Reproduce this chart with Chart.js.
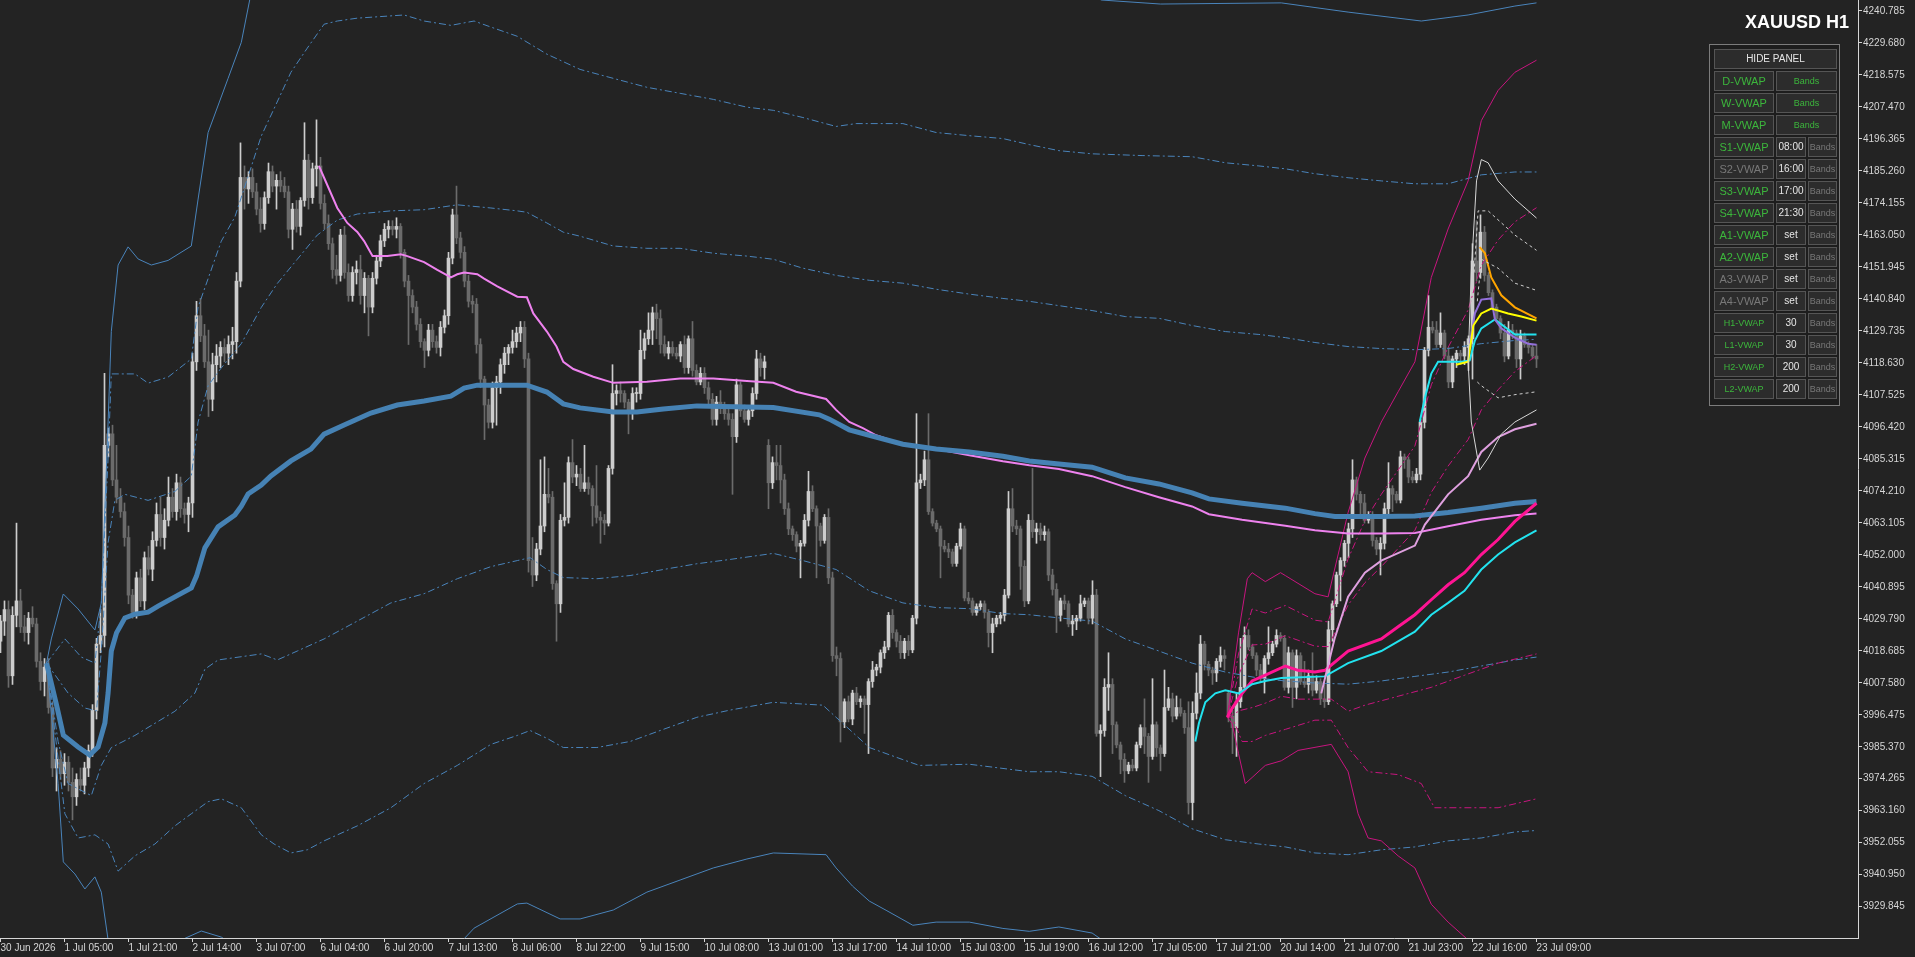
<!DOCTYPE html>
<html>
<head>
<meta charset="utf-8">
<script src="https://cdn.jsdelivr.net/npm/chart.js@4.4.1/dist/chart.umd.min.js"></script>
<style>
  html, body { margin: 0; padding: 0; background: #232323; overflow: hidden; }
  #wrap { position: relative; width: 1915px; height: 957px; }
  #chart { position: absolute; left: 0; top: 0; }
  #title { position: absolute; right: 66px; top: 12px; line-height: 18px; color: #fff; font: bold 18px "Liberation Sans", Arial, sans-serif; }
  #panel { position: absolute; left: 1709px; top: 44px; width: 129px; height: 360px; border: 1px solid #7c7c7c; background: #1d1d1d; }
  .btn { position: absolute; box-sizing: border-box; border: 1px solid #555; background: #2c2c2c; text-align: center; font-family: "Liberation Sans", Arial, sans-serif; white-space: nowrap; overflow: hidden; }
</style>
</head>
<body>
<div id="wrap">
  <canvas id="chart" width="1915" height="957"></canvas>
  <div id="title">XAUUSD H1</div>
  <div id="panel"></div>
</div>
<script>
// ---- candles [open, high, low, close], one array per trading week ----
const weekJun29 = [
  [4022,4031,4018,4029],[4029,4036,4024,4033],[4033,4036,4006,4010],[4010,4034,4007,4031],[4031,4063,4027,4036],
  [4036,4040,4025,4027],[4027,4031,4022,4025],[4025,4032,4021,4030],[4030,4034,4027,4028],[4028,4030,4013,4015],
  [4015,4018,4005,4008],[4008,4016,4003,4013],[4013,4016,3997,3999],[3999,4001,3975,3978],[3978,3985,3970,3981],
  [3981,3984,3974,3976],[3976,3983,3972,3980],[3980,3982,3970,3973],[3973,3978,3960,3968],[3968,3976,3965,3974],
  [3974,3978,3970,3972],[3972,3980,3969,3978],[3978,3986,3975,3984],[3984,4000,3982,3998],[3998,4023,3995,4021],
  [4021,4033,4018,4024],[4024,4115,4020,4090],[4090,4096,4086,4094],[4094,4097,4076,4078],[4078,4090,4070,4072],
  [4072,4075,4065,4067],[4067,4070,4055,4058],[4058,4062,4035,4038],[4038,4040,4030,4032],[4032,4046,4030,4044],
  [4044,4047,4034,4036],[4036,4053,4033,4051],[4051,4055,4045,4047],[4047,4060,4043,4057],[4057,4070,4055,4066],
  [4066,4072,4055,4058],[4058,4068,4054,4064],[4064,4079,4062,4072],[4072,4075,4065,4067],[4067,4080,4064,4077],
  [4077,4079,4065,4068],[4068,4070,4063,4066],[4066,4072,4060,4070],[4070,4122,4065,4119],[4119,4140,4116,4135],
  [4135,4141,4126,4128],[4128,4132,4117,4119],[4119,4130,4100,4106],[4106,4122,4102,4118],[4118,4125,4112,4121],
  [4121,4126,4117,4124],[4124,4127,4119,4122],[4122,4128,4118,4125],[4125,4131,4120,4126],[4126,4150,4122,4147],
  [4147,4195,4145,4183],[4183,4187,4172,4179],[4179,4185,4174,4183],[4183,4186,4176,4178],[4178,4181,4170,4172],
  [4172,4176,4164,4167],[4167,4178,4165,4176],[4176,4188,4174,4185],[4185,4187,4178,4180],[4180,4184,4172,4182],
  [4182,4185,4178,4180],[4180,4183,4176,4178],[4178,4180,4162,4165],[4165,4174,4158,4172],[4172,4175,4164,4166],
  [4166,4176,4163,4175],[4175,4202,4173,4189]
];
const weekJul06 = [
  [4189,4191,4172,4176],[4176,4188,4174,4186],[4186,4203,4180,4187],[4187,4190,4172,4174],[4174,4177,4165,4167],
  [4167,4170,4158,4160],[4160,4162,4148,4151],[4151,4156,4146,4149],[4149,4165,4147,4163],[4163,4166,4148,4150],
  [4150,4153,4140,4142],[4142,4152,4140,4150],[4150,4154,4146,4151],[4151,4156,4139,4142],[4142,4150,4136,4148],
  [4148,4149,4128,4138],[4138,4150,4136,4148],[4148,4156,4146,4154],[4154,4163,4152,4161],[4161,4167,4159,4165],
  [4165,4168,4162,4166],[4166,4168,4163,4165],[4165,4169,4162,4166],[4166,4167,4155,4157],[4157,4158,4145,4147],
  [4147,4149,4125,4142],[4142,4144,4136,4138],[4138,4140,4130,4132],[4132,4134,4124,4126],[4126,4127,4117,4123],
  [4123,4132,4121,4130],[4130,4132,4124,4126],[4126,4128,4122,4124],[4124,4133,4121,4131],[4131,4137,4129,4135],
  [4135,4157,4132,4155],[4155,4172,4153,4170],[4170,4180,4160,4162],[4162,4164,4155,4157],[4157,4159,4145,4147],
  [4147,4149,4138,4140],[4140,4142,4136,4139],[4139,4141,4122,4125],[4125,4127,4110,4113],[4113,4114,4092,4104],
  [4104,4106,4096,4098],[4098,4112,4096,4110],[4110,4114,4097,4112],[4112,4120,4108,4118],[4118,4124,4115,4122],
  [4122,4125,4118,4124],[4124,4130,4122,4126],[4126,4131,4124,4129],[4129,4133,4126,4131],[4131,4133,4117,4120],
  [4120,4122,4046,4050],[4050,4058,4041,4045],[4045,4056,4043,4054],[4054,4085,4052,4062],[4062,4086,4060,4073],
  [4073,4082,4070,4072],[4072,4074,4040,4042],[4042,4043,4022,4035],[4035,4066,4032,4064],[4064,4077,4062,4065],
  [4065,4086,4063,4084],[4084,4092,4077,4079],[4079,4083,4076,4080],[4080,4082,4074,4075],[4075,4090,4074,4077],
  [4077,4079,4073,4075],[4075,4076,4062,4069],[4069,4083,4063,4065],[4065,4067,4056,4064],[4064,4066,4059,4063],
  [4063,4083,4062,4082],[4082,4118,4080,4108],[4108,4111,4104,4109],[4109,4112,4105,4108],[4108,4109,4103,4105],
  [4105,4106,4094,4102],[4102,4110,4099,4108],[4108,4110,4105,4108],[4108,4130,4106,4123],[4123,4129,4120,4127],
  [4127,4136,4125,4130],[4130,4138,4125,4136],[4136,4139,4127,4134],[4134,4137,4122,4125],[4125,4128,4121,4122],
  [4122,4126,4120,4124],[4124,4126,4121,4122],[4122,4124,4120,4121],[4121,4126,4119,4125],[4125,4128,4115,4117],
  [4117,4128,4115,4127],[4127,4133,4114,4116],[4116,4118,4111,4112],[4112,4117,4111,4115],[4115,4117,4108,4110],
  [4110,4112,4104,4106],[4106,4108,4097,4099],[4099,4107,4097,4105],[4105,4109,4101,4103],[4103,4105,4099,4101],
  [4101,4103,4097,4099],[4099,4101,4073,4093],[4093,4113,4091,4111],[4111,4112,4100,4102],[4102,4104,4098,4099],
  [4099,4103,4097,4102],[4102,4110,4100,4108],[4108,4123,4106,4120],[4120,4122,4114,4117],[4117,4121,4113,4119]
];
const weekJul13 = [
  [4090,4092,4068,4077],[4077,4086,4075,4084],[4084,4090,4078,4083],[4083,4090,4070,4078],[4078,4080,4066,4068],
  [4068,4070,4059,4061],[4061,4062,4057,4059],[4059,4060,4053,4055],[4055,4057,4044,4056],[4056,4066,4055,4064],
  [4064,4081,4062,4074],[4074,4076,4067,4068],[4068,4069,4044,4062],[4062,4063,4055,4057],[4057,4066,4056,4065],
  [4065,4068,4042,4044],[4044,4046,4015,4017],[4017,4020,4010,4016],[4016,4018,3987,3994],[3994,4002,3992,4001],
  [4001,4003,3994,3995],[3995,4005,3993,4004],[4004,4006,4000,4001],[4001,4003,3999,4002],[4002,4003,3990,4000],
  [4000,4009,3983,4008],[4008,4015,4006,4012],[4012,4014,4010,4013],[4013,4019,4011,4018],[4018,4022,4016,4020],
  [4020,4032,4019,4031],[4031,4033,4023,4025],[4025,4026,4020,4022],[4022,4024,4016,4018],[4018,4023,4016,4022],
  [4022,4024,4017,4019],[4019,4031,4018,4030],[4030,4101,4028,4077],[4077,4080,4075,4078],[4078,4088,4076,4085],
  [4085,4101,4066,4067],[4067,4068,4062,4063],[4063,4064,4060,4061],[4061,4062,4044,4055],[4055,4057,4053,4054],
  [4054,4056,4051,4053],[4053,4054,4048,4049],[4049,4056,4048,4055],[4055,4063,4054,4061],[4061,4062,4036,4037],
  [4037,4039,4035,4036],[4036,4037,4031,4032],[4032,4035,4031,4034],[4034,4036,4033,4035],[4035,4036,4030,4032],
  [4032,4033,4020,4025],[4025,4030,4018,4028],[4028,4031,4027,4030],[4030,4032,4028,4031],[4031,4040,4029,4038],
  [4038,4074,4037,4068],[4068,4075,4060,4062],[4062,4064,4059,4061],[4061,4062,4040,4048],[4048,4050,4034,4036],
  [4036,4066,4035,4064],[4064,4082,4058,4060],[4060,4063,4056,4061],[4061,4063,4057,4059],[4059,4062,4057,4060],
  [4060,4061,4043,4045],[4045,4047,4038,4040],[4040,4042,4025,4031],[4031,4037,4029,4036],[4036,4038,4033,4035],
  [4035,4036,4027,4028],[4028,4031,4024,4029],[4029,4031,4026,4030],[4030,4038,4029,4035],[4035,4037,4034,4036],
  [4036,4037,4028,4030],[4030,4043,4028,4038],[4038,4040,3989,3990],[3990,3993,3975,3991],[3991,4009,3989,4006],
  [4006,4018,3998,4007],[4007,4009,3983,3993],[3993,3994,3985,3986],[3986,3987,3976,3981],[3981,3983,3973,3977],
  [3977,3980,3976,3979],[3979,3981,3977,3978],[3978,3987,3977,3986],[3986,3993,3985,3992],[3992,4002,3983,3989],
  [3989,3990,3973,3982],[3982,4009,3981,3993],[3993,3994,3982,3985],[3985,3986,3977,3983],[3983,4012,3982,3999],
  [3999,4006,3998,4002],[4002,4004,3994,3996],[3996,4003,3995,3999],[3999,4002,3996,3997],[3997,3998,3990,3992],
  [3992,4001,3962,3966],[3966,4001,3960,3997],[3997,4011,3995,4004],[4004,4024,4002,4021],[4021,4022,4012,4014],
  [4014,4015,4010,4012],[4012,4013,4007,4011],[4011,4016,4008,4015],[4015,4020,4013,4017],[4017,4019,4012,4016]
];
const weekJul20 = [
  [4004,4005,3994,3996],[3996,3998,3983,3992],[3992,4004,3982,4001],[4001,4023,3999,4006],[4006,4027,4005,4024],
  [4024,4026,4019,4020],[4020,4021,4016,4017],[4017,4018,4010,4012],[4012,4014,4008,4009],[4009,4017,4004,4016],
  [4016,4027,4014,4018],[4018,4022,4017,4021],[4021,4026,4020,4024],[4024,4025,4022,4023],[4023,4024,4005,4006],
  [4006,4020,4004,4018],[4018,4019,3999,4006],[4006,4019,4002,4017],[4017,4018,4007,4008],[4008,4015,4006,4007],
  [4007,4012,4004,4010],[4010,4018,4003,4005],[4005,4010,4004,4008],[4008,4009,4000,4002],[4002,4007,3999,4001],
  [4001,4029,4000,4026],[4026,4036,4022,4035],[4035,4046,4034,4045],[4045,4051,4036,4050],[4050,4057,4048,4056],
  [4056,4063,4051,4061],[4061,4085,4058,4078],[4078,4079,4071,4073],[4073,4074,4065,4070],[4070,4073,4063,4064],
  [4064,4067,4063,4065],[4065,4067,4055,4057],[4057,4058,4052,4054],[4054,4058,4045,4056],[4056,4070,4054,4068],
  [4068,4084,4066,4075],[4075,4076,4067,4073],[4073,4074,4070,4071],[4071,4088,4070,4086],[4086,4087,4082,4085],
  [4085,4086,4077,4079],[4079,4081,4077,4078],[4078,4082,4077,4080],[4080,4099,4078,4098],[4098,4124,4096,4123],
  [4123,4142,4121,4131],[4131,4133,4129,4130],[4130,4133,4124,4125],[4125,4136,4124,4129],[4129,4130,4120,4121],
  [4121,4124,4110,4112],[4112,4121,4110,4120],[4120,4123,4117,4122],[4122,4123,4118,4121],[4121,4126,4118,4124],
  [4124,4128,4116,4127],[4127,4160,4113,4154],[4154,4168,4147,4150],[4150,4170,4148,4164],[4164,4166,4147,4149],
  [4149,4150,4142,4143],[4143,4144,4137,4138],[4138,4139,4133,4134],[4134,4135,4127,4129],[4129,4132,4119,4121],
  [4121,4133,4120,4130],[4130,4132,4127,4129],[4129,4130,4117,4120],[4120,4130,4113,4128],[4128,4129,4124,4125],
  [4125,4126,4122,4124],[4124,4125,4120,4121],[4121,4125,4117,4120]
];

// ---- axis labels ----
const tickIdx = [0,16,32,48,64,80,96,112,128,144,160,176,192,208,224,240,256,272,288,304,320,336,352,368,384];
const tickLabels = ['30 Jun 2026','1 Jul 05:00','1 Jul 21:00','2 Jul 14:00','3 Jul 07:00','6 Jul 04:00','6 Jul 20:00',
  '7 Jul 13:00','8 Jul 06:00','8 Jul 22:00','9 Jul 15:00','10 Jul 08:00','13 Jul 01:00','13 Jul 17:00','14 Jul 10:00',
  '15 Jul 03:00','15 Jul 19:00','16 Jul 12:00','17 Jul 05:00','17 Jul 21:00','20 Jul 14:00','21 Jul 07:00',
  '21 Jul 23:00','22 Jul 16:00','23 Jul 09:00'];
const priceTicks = [3929.845,3940.950,3952.055,3963.160,3974.265,3985.370,3996.475,4007.580,4018.685,4029.790,
  4040.895,4052.000,4063.105,4074.210,4085.315,4096.420,4107.525,4118.630,4129.735,4140.840,4151.945,4163.050,
  4174.155,4185.260,4196.365,4207.470,4218.575,4229.680,4240.785];

// ---- indicator lines, [bar index, price] ----
const mVwap = [[11.5,4014.4],[14,3999.9],[15.7,3989.4],[19.4,3985.3],[22.3,3982.5],[24.4,3985.3],[26.1,3993.6],[26.9,4004],
  [27.7,4018.6],[29,4024.9],[31.1,4030.1],[33.6,4031.4],[36.9,4032.1],[39.4,4034.2],[43.6,4037.4],[47.7,4040.5],[49,4044.6],
  [51.1,4054.4],[54.4,4061.7],[58.6,4065.8],[60.2,4068.9],[61.9,4073.1],[65.2,4076.2],[67.6,4079.4],[72.6,4084.6],
  [77.6,4088.7],[80.9,4093.9],[85.9,4097.1],[92.6,4101.2],[99.2,4104],[105.9,4105.4],[112.6,4107.1],[115.9,4109.9],
  [119.2,4110.9],[131.6,4110.9],[136.6,4108.5],[140.7,4104.4],[144.9,4103],[153.2,4101.6],[159.1,4101.6],[165.7,4102.6],
  [174.1,4103.7],[186.6,4103.3],[193.2,4103.1],[204.7,4100.6],[207.2,4099.1],[212.2,4095.4],[217.2,4093.5],[225.6,4090.4],
  [233.9,4088.7],[242.2,4087.7],[250.6,4086.2],[257.2,4084.6],[264.6,4083.5],[272.9,4082.4],[281.2,4078.7],[289.6,4076.6],
  [297.9,4073.5],[302.1,4071.4],[310.4,4069.9],[321.2,4068.2],[328.6,4066.3],[333.6,4065.3],[345.2,4065.3],[353.6,4065.5],
  [361.9,4066.7],[370.2,4068.2],[378.6,4069.9],[384,4070.5]];
const mUp1 = [[11.5,4014.4],[16.9,4004],[21.1,3998.8],[24,3997.8],[25.2,4018.6],[26.9,4056.3],[28.6,4070.9],[31.1,4073],
  [36.9,4070.9],[43.6,4074],[47.7,4079.3],[49.4,4098.1],[51.9,4110.7],[55.2,4116.9],[60.2,4125.3],[65.2,4137.9],[69.2,4146.2],
  [74.2,4154.6],[79.2,4163],[84.2,4168.2],[89.2,4170.3],[97.6,4171.4],[105.9,4171.8],[114.2,4173.5],[122.6,4172.4],
  [129.2,4171.4],[131.6,4170.9],[136.6,4167.2],[140.7,4164],[144.9,4162.6],[153.2,4159.2],[161.6,4158.4],[169.9,4158.4],
  [178.2,4156.7],[186.6,4155.7],[193.2,4154.6],[200.6,4151.5],[208.9,4149],[217.2,4147.3],[225.6,4146.3],[233.9,4144.2],
  [242.2,4142.5],[250.6,4141],[257.2,4140],[264.6,4138.5],[272.9,4136.8],[281.2,4134.7],[289.6,4134.1],[297.9,4131.6],
  [306.2,4129.5],[314.6,4128.5],[321.2,4127.4],[328.6,4125.7],[336.9,4124.3],[345.2,4123.6],[353.6,4123.2],[361.9,4123.6],
  [370.2,4125.3],[378.6,4126.4],[384,4126.8]];
const mUp2 = [[11.5,4014.4],[16.1,4022.8],[20.2,4016.5],[23.6,4014.4],[25.2,4035.3],[26.9,4085.6],[27.7,4114.8],[33.6,4114.8],
  [36.9,4111.6],[41.9,4113.7],[47.7,4120],[49.4,4138],[55.2,4160.9],[58.6,4169.3],[65.2,4197.4],[68.4,4206.9],[72.6,4219.5],
  [76.7,4227.9],[80.9,4236.2],[84.2,4237.3],[89.2,4238.3],[100.9,4239.4],[105.9,4237.3],[112.6,4235.8],[118.4,4237.3],
  [122.6,4235.2],[129.2,4232],[136.6,4225.8],[144.9,4220.5],[153.2,4217.4],[161.6,4214.3],[169.9,4212.2],[178.2,4210.1],
  [186.6,4207.4],[193.2,4206.3],[200.6,4203.8],[208.9,4200.7],[213.9,4201.7],[225.6,4201.7],[233.9,4198.6],[242.2,4197.5],
  [250.6,4196.5],[257.2,4194.4],[264.6,4192.3],[272.9,4191.2],[285.4,4190.6],[297.9,4190.2],[306.2,4188.1],[314.6,4187],
  [321.2,4186],[328.6,4184.3],[336.9,4182.9],[345.2,4181.8],[353.6,4180.8],[361.9,4180.8],[370.2,4183.9],[378.6,4184.9],
  [384,4184.9]];
const mUp3 = [[11.5,4014.4],[12.7,4022.8],[15.7,4038.4],[19.4,4033.2],[23.6,4025.9],[25.2,4035.3],[26.9,4098.1],[27.7,4129.5],
  [29.4,4152.6],[31.9,4158.9],[34.4,4154.7],[37.7,4152.6],[41.9,4154.2],[47.7,4159.2],[49.4,4175.5],[51.9,4198.6],
  [56.9,4217.4],[60.2,4229.9],[62.3,4244.6],[70,4262],[90,4280],[120,4290],[160,4290],[200,4285],[240,4270],[265,4252],
  [275.2,4244.6],[290,4243.2],[320.2,4243.6],[336.9,4240.4],[355.2,4237.3],[366.9,4239.4],[378.6,4242.5],[384,4243.6]];
const mDn1 = [[11.5,4014.4],[14.4,3987.2],[16.9,3972.6],[22.7,3968.4],[25.2,3978.9],[27.7,3985.1],[33.6,3989.3],[43.6,3997.7],
  [48.6,4004],[51.1,4012.3],[54.4,4015.5],[65.2,4017.6],[69.2,4015.5],[74.2,4018.6],[80.9,4022.8],[89.2,4029],[97.6,4035.3],
  [105.9,4038.5],[114.2,4043.7],[122.6,4047.9],[129.2,4050],[132.4,4051],[136.6,4046.9],[140.7,4044.1],[149.1,4043.7],
  [157.4,4044.8],[165.7,4046.9],[174.1,4048.9],[182.4,4050.4],[193.2,4052.5],[200.6,4050],[208.9,4046.9],[217.2,4039.5],
  [225.6,4035.3],[233.9,4033.7],[242.2,4033.3],[250.6,4031.6],[257.2,4031.2],[264.6,4030.1],[272.9,4029],[281.2,4022.8],
  [289.6,4018.6],[297.9,4014.4],[306.2,4011.3],[314.6,4009.2],[321.2,4008.2],[328.6,4007.5],[336.9,4007.1],[345.2,4008.2],
  [353.6,4009.8],[361.9,4011.3],[370.2,4013.4],[378.6,4015.5],[384,4016.5]];
const mDn2 = [[11.5,4014.4],[16.1,3962.1],[19.4,3953.7],[23.6,3954.8],[26.9,3951.6],[29.4,3942.2],[33.6,3947.5],[38.6,3951.6],
  [43.6,3957.9],[47.7,3962.1],[51.9,3966.3],[55.2,3967.3],[60.2,3964.2],[65.2,3954.8],[68.4,3951.6],[72.6,3948.5],
  [76.7,3949.6],[80.9,3952.7],[89.2,3957.9],[97.6,3964.2],[105.9,3972.6],[114.2,3978.9],[122.6,3986.2],[129.2,3989.3],
  [132.4,3991],[136.6,3988.3],[140.7,3985.1],[149.1,3985.1],[157.4,3987.2],[165.7,3991.4],[174.1,3995.6],[182.4,3998.1],
  [193.2,4000.8],[205.6,3999.8],[208.9,3995.6],[217.2,3985.1],[225.6,3980.9],[229.7,3978.9],[242.2,3979.3],[257.2,3976.7],
  [264.6,3976.7],[272.9,3975.1],[281.2,3968.4],[289.6,3963.2],[297.9,3956.9],[306.2,3953.1],[314.6,3951.6],[321.2,3950.6],
  [328.6,3948.5],[336.9,3947.9],[345.2,3949.6],[353.6,3950.6],[361.9,3952.7],[370.2,3953.7],[378.6,3955.8],[384,3956.3]];
const mDn3 = [[11.5,4014.4],[14.4,3972.6],[15.7,3945.4],[18.6,3941.2],[21.1,3936],[23.6,3940.2],[25.2,3934.9],[26.9,3918.3],
  [35,3905],[42,3912],[45.2,3918.3],[50.2,3921.4],[55.2,3919.3],[65,3910],[90,3900],[110,3910],[118.4,3922.4],[129.2,3930.8],
  [131.6,3931.1],[139.9,3925.6],[144.9,3925.6],[153.2,3928.7],[161.6,3934.9],[169.9,3939.1],[178.2,3943.3],[186.6,3946.4],
  [193.2,3948.5],[206.4,3947.9],[208.9,3943.3],[213,3937],[217.2,3931.8],[221.4,3928.6],[228.1,3923.4],[233.9,3924.5],
  [242.2,3924.5],[250.6,3922.3],[257.2,3921.3],[264.6,3922.8],[272.9,3920.7],[275.4,3918.3],[290,3905],[330,3895],[384,3890]];
const aVwap = [[79.6,4187],[80.9,4182.9],[84.2,4172.4],[86.7,4167.2],[89.2,4164.1],[90.9,4160.9],[93,4155.7],[96.7,4155.7],
  [100.1,4156.3],[101.7,4155.7],[105.9,4153.6],[109.2,4150.9],[112.6,4148.3],[114.2,4149.4],[115.9,4150],[119.2,4149.4],
  [120.9,4147.9],[124.2,4145.2],[129.2,4141.6],[131.6,4141.4],[133.2,4135.8],[136.6,4129.5],[139,4124.3],[140.7,4119],
  [143.2,4116.5],[148.2,4113.8],[153.2,4111.7],[161.6,4112.1],[169.9,4113.2],[178.2,4113.2],[186.6,4112.3],[193.2,4111.7],
  [198.9,4108.6],[206.4,4106.1],[208.9,4102.3],[212.2,4098.1],[215.6,4096],[218.9,4093.5],[225.6,4090.4],[233.9,4088.7],
  [242.2,4086.6],[250.6,4084.5],[257.2,4083.1],[264.6,4081.8],[272.9,4079.3],[281.2,4075.5],[289.6,4072],[297.9,4068.8],
  [302.1,4066.1],[310.4,4064.2],[321.2,4062.1],[328.6,4060.5],[336.9,4059.4],[345.2,4059.4],[353.6,4059.6],[361.9,4061.9],
  [370.2,4064.2],[378.6,4065.7],[384,4066.3]];
const wVwap = [[306.7,3995.6],[307.9,3998.7],[310.4,4003.9],[312.9,4008.2],[316.2,4010.2],[321.2,4013.4],[324.4,4011.9],
  [328.6,4011.3],[331.1,4011.9],[336.9,4018.6],[345.2,4022.8],[349.4,4027],[353.6,4031.2],[357.7,4036.4],[361.9,4041.6],
  [366,4045.8],[370.2,4052.1],[374.4,4057.3],[378.6,4063.6],[384,4069.9]];
const wUp1 = [[306.7,3995.6],[309.5,4010.2],[312.9,4020.7],[316.2,4021],[321.2,4023.9],[328.6,4020.3],[331.9,4020.1],
  [336.9,4034.6],[341.1,4042.3],[345.2,4047.9],[349.4,4054.2],[353.6,4060.5],[357.7,4073.7],[361.9,4082.8],[366.9,4092],
  [370.2,4102.3],[374.4,4109.3],[378.6,4115.6],[384,4121.2]];
const wUp2 = [[306.7,3995.6],[309.5,4017.6],[312.9,4033.2],[316.2,4031.8],[321.2,4034.4],[328.6,4029.3],[331.9,4028.7],
  [336.9,4050.6],[341.1,4063.9],[345.2,4073],[349.4,4081.4],[353.6,4089.8],[357.7,4111],[361.9,4124],[366.9,4137],
  [370.2,4152.5],[374.4,4161.3],[378.6,4167.6],[384,4172.5]];
const wUp3 = [[306.7,3995.6],[309.5,4024.9],[311.7,4043.7],[312.9,4045.8],[316.2,4042.7],[320,4045.8],[321.2,4044.8],
  [328.6,4038.5],[331.9,4037.4],[336.9,4066.7],[341.1,4085.6],[345.2,4098.1],[349.4,4108.6],[353.6,4119],[357.7,4148.3],
  [361.9,4165.1],[366.9,4181.8],[370.2,4202.7],[374.4,4213.2],[378.6,4219.5],[384,4223.7]];
const wDn1 = [[306.7,3995.6],[310,3998],[313,3999],[316.2,4000.5],[320.2,4002.9],[324.4,4001.9],[332.7,4001.9],[336.9,3997.7],
  [341.1,3999.8],[349.4,4002.9],[357.7,4006],[366,4010.2],[374.4,4014.4],[384,4017.6]];
const wDn2 = [[306.7,3995.6],[307.9,3995.7],[310.4,3987.2],[312.9,3987.2],[316.2,3989.3],[321.2,3991.4],[328.6,3994.6],
  [332.7,3994.6],[336.9,3985.1],[341.9,3976.7],[349.4,3975.7],[355.2,3972.6],[358.5,3964.2],[366,3964.2],[374.4,3964.2],
  [384,3967.3]];
const wDn3 = [[306.7,3995.6],[307.9,3993.5],[309.5,3983],[311.2,3972.6],[312.9,3974.7],[316.2,3978.9],[320.2,3980.5],
  [324.4,3984.1],[332.7,3986.2],[336.9,3976.7],[339.4,3962.1],[341.9,3953.7],[345.2,3952.7],[349.4,3947.5],[353.6,3943.3],
  [357.7,3930.7],[361.9,3924.5],[366.9,3918.3],[372,3905],[384,3895]];
const cyanLow = [[298.7,3987.2],[299.6,3993.5],[301.2,4000.8],[303.7,4003.9],[306.2,4005],[309.6,4003.9],[312.9,4007.1],
  [316.2,4008.2],[320.2,4009.2],[331.1,4009.8],[336.9,4014.4],[345.2,4018.6],[353.6,4025.3],[357.7,4031.2],[361.9,4035.3],
  [366,4039.5],[370.2,4046.9],[374.4,4052.1],[378.6,4056.3],[384,4060.5]];
const cyanHigh = [[354.8,4098.1],[356.1,4106.5],[357.7,4114.9],[359.4,4119],[361.9,4119],[365.2,4119],[367.3,4119.5],
  [368.6,4126.4],[370.2,4130.6],[373.6,4133.7],[378.6,4128.5],[384,4128.5]];
const plumLine = [[330.2,4003.9],[333.5,4022.8],[336.9,4037.5],[341.1,4045.8],[345.2,4050],[353.6,4055.2],[356.1,4062.5],
  [361.9,4073],[366.9,4079.3],[370.2,4087.7],[374.4,4092.9],[378.6,4095.6],[384,4097.5]];
const yellowLine = [[363.9,4118],[366.9,4119],[368.2,4131.6],[370.2,4135.8],[372.7,4137.5],[376.9,4135.8],[380.2,4134.7],[384,4133.3]];
const orangeLine = [[369.8,4158.8],[371.1,4156.7],[372.7,4148.3],[375.2,4142.1],[378.6,4137.9],[384,4134.1]];
const purpleLine = [[367.3,4125.3],[368.6,4135.8],[370.2,4140.6],[372.7,4141],[373.6,4133.7],[375.2,4130.6],[378.6,4127.4],
  [381.9,4125.3],[384,4124.9]];
const whiteUp = [[366.9,4119],[367.7,4150.4],[369,4181.8],[370.2,4189.2],[371.9,4188.1],[374.4,4181.8],[378.6,4175.5],[384,4168.9]];
const whiteDn = [[366.9,4119],[367.7,4098.1],[369.8,4081.4],[371.9,4085.6],[375.2,4093.9],[378.6,4098.1],[384,4102.3]];
const whiteDash1 = [[368.4,4150],[369.4,4171.4],[371.9,4171.4],[378.6,4163],[384,4157.7]];
const whiteDash2 = [[369.2,4140],[370.2,4154.6],[374.4,4151.5],[378.6,4146.3],[384,4143.8]];
const whiteDash3 = [[369.2,4112],[370.2,4110.7],[374.4,4106.5],[378.6,4107.6],[384,4108.6]];

// ---- panel buttons: [label, colour class] ----
const panelRows = [
  [['D-VWAP','on'],['Bands','on']],
  [['W-VWAP','on'],['Bands','on']],
  [['M-VWAP','on'],['Bands','on']],
  [['S1-VWAP','on'],['08:00','txt'],['Bands','off']],
  [['S2-VWAP','off'],['16:00','txt'],['Bands','off']],
  [['S3-VWAP','on'],['17:00','txt'],['Bands','off']],
  [['S4-VWAP','on'],['21:30','txt'],['Bands','off']],
  [['A1-VWAP','on'],['set','txt'],['Bands','off']],
  [['A2-VWAP','on'],['set','txt'],['Bands','off']],
  [['A3-VWAP','off'],['set','txt'],['Bands','off']],
  [['A4-VWAP','off'],['set','txt'],['Bands','off']],
  [['H1-VWAP','on'],['30','txt'],['Bands','off']],
  [['L1-VWAP','on'],['30','txt'],['Bands','off']],
  [['H2-VWAP','on'],['200','txt'],['Bands','off']],
  [['L2-VWAP','on'],['200','txt'],['Bands','off']]
];

const BULL = '#cdcdcd';
const BEAR = '#6b6b6b';
const AXIS = '#d6d6d6';
const MBLUE = '#4a84bb';
const WPINK = '#c8157f';
const DASHDOT = [7, 3, 2, 3];
const AXIS_FONT = { family: 'Liberation Sans', size: 10 };

function buildPanel() {
  const textColor = { on: '#3cb63c', off: '#787878', txt: '#e6e6e6' };
  function addBtn(x, y, w, h, text, cls, size) {
    const b = document.createElement('div');
    b.className = 'btn';
    b.style.left = x + 'px'; b.style.top = y + 'px';
    b.style.width = w + 'px'; b.style.height = h + 'px';
    b.style.lineHeight = (h - 2) + 'px';
    b.style.fontSize = size + 'px';
    b.style.color = textColor[cls];
    b.textContent = text;
    document.getElementById('wrap').appendChild(b);
  }
  addBtn(1714, 49, 123, 20, 'HIDE PANEL', 'txt', 10);
  panelRows.forEach((row, r) => {
    const y = 71 + r * 22;
    const small = row[0][0].startsWith('H') || row[0][0].startsWith('L');
    addBtn(1714, y, 60, 20, row[0][0], row[0][1], small ? 9 : 11);
    if (row.length === 2) {
      addBtn(1776, y, 61, 20, row[1][0], row[1][1], 9);
    } else {
      addBtn(1776, y, 30, 20, row[1][0], row[1][1], 10);
      addBtn(1808, y, 29, 20, row[2][0], row[2][1], 9);
    }
  });
}

function lineSet(points, color, width, dash, order) {
  return {
    type: 'line',
    data: points.map(p => ({ x: p[0], y: p[1] })),
    borderColor: color,
    borderWidth: width,
    borderDash: dash || [],
    pointRadius: 0,
    tension: 0,
    fill: false,
    order: order
  };
}

function drawChart() {
  const candles = [...weekJun29, ...weekJul06, ...weekJul13, ...weekJul20];
  const colors = candles.map(c => c[3] >= c[0] ? BULL : BEAR);
  const wicks = candles.map((c, i) => ({ x: i, y: [c[2], c[1]] }));
  const bodies = candles.map((c, i) => ({ x: i, y: [Math.min(c[0], c[3]), Math.max(c[0], c[3])] }));

  const datasets = [
    lineSet(whiteDash1, '#d0d0d0', 1, [3, 3], 1),
    lineSet(whiteDash2, '#d0d0d0', 1, [3, 3], 1),
    lineSet(whiteDash3, '#d0d0d0', 1, [3, 3], 1),
    lineSet(whiteUp, '#d8d8d8', 1, null, 1),
    lineSet(whiteDn, '#d8d8d8', 1, null, 1),
    lineSet(orangeLine, '#ffa500', 2, null, 1),
    lineSet(yellowLine, '#ffff00', 2, null, 1),
    lineSet(purpleLine, '#9370db', 2, null, 1),
    lineSet(cyanHigh, '#22e3ef', 2, null, 1),
    lineSet(plumLine, '#dfa0df', 2, null, 1),
    lineSet(cyanLow, '#22e3ef', 2, null, 2),
    lineSet(wVwap, '#ff1493', 3, null, 2),
    lineSet(mVwap, '#4682b4', 5, null, 3),
    lineSet(aVwap, '#ee82ee', 2, null, 4),
    lineSet(wUp1, WPINK, 1, DASHDOT, 5),
    lineSet(wUp2, WPINK, 1, DASHDOT, 5),
    lineSet(wUp3, WPINK, 1, null, 5),
    lineSet(wDn1, WPINK, 1, DASHDOT, 5),
    lineSet(wDn2, WPINK, 1, DASHDOT, 5),
    lineSet(wDn3, WPINK, 1, null, 5),
    lineSet(mUp1, MBLUE, 1, DASHDOT, 6),
    lineSet(mUp2, MBLUE, 1, DASHDOT, 6),
    lineSet(mUp3, MBLUE, 1, null, 6),
    lineSet(mDn1, MBLUE, 1, DASHDOT, 6),
    lineSet(mDn2, MBLUE, 1, DASHDOT, 6),
    lineSet(mDn3, MBLUE, 1, null, 6),
    {
      type: 'bar', data: bodies, backgroundColor: colors, borderWidth: 0,
      barThickness: 3, grouped: false, minBarLength: 1, order: 10
    },
    {
      type: 'bar', data: wicks, backgroundColor: colors, borderWidth: 0,
      barThickness: 1, grouped: false, order: 11
    }
  ];

  new Chart(document.getElementById('chart'), {
    type: 'bar',
    data: { datasets: datasets },
    options: {
      responsive: false,
      animation: false,
      devicePixelRatio: 1,
      layout: { padding: 0 },
      plugins: { legend: { display: false }, tooltip: { enabled: false } },
      scales: {
        x: {
          type: 'linear', position: 'bottom', offset: false,
          min: -0.125, max: 464.375,
          afterBuildTicks: s => { s.ticks = tickIdx.map(v => ({ value: v })); },
          afterFit: s => { s.height = 19; s.paddingLeft = 0; s.paddingRight = 0; },
          ticks: {
            autoSkip: false, maxRotation: 0, minRotation: 0, align: 'start', padding: 0,
            color: AXIS, font: AXIS_FONT,
            callback: (v, i) => tickLabels[i]
          },
          grid: { offset: false, drawOnChartArea: false, drawTicks: true, tickLength: 4, color: AXIS },
          border: { display: true, color: AXIS, width: 1 }
        },
        y: {
          type: 'linear', position: 'right', beginAtZero: false,
          min: 3918.98, max: 4244.6,
          afterBuildTicks: s => { s.ticks = priceTicks.map(v => ({ value: v })); },
          afterFit: s => { s.width = 57; s.paddingTop = 0; s.paddingBottom = 0; },
          ticks: {
            padding: 1, color: AXIS, font: AXIS_FONT,
            callback: v => Number(v).toFixed(3)
          },
          grid: { drawOnChartArea: false, drawTicks: true, tickLength: 4, color: AXIS },
          border: { display: true, color: AXIS, width: 1 }
        }
      }
    }
  });
}

buildPanel();
drawChart();
</script>
</body>
</html>
